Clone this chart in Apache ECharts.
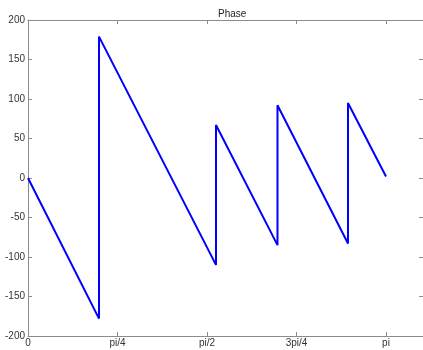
<!DOCTYPE html>
<html>
<head>
<meta charset="utf-8">
<script src="https://cdn.jsdelivr.net/npm/echarts@6/dist/echarts.min.js"></script>
<style>
  html, body { margin: 0; padding: 0; background: #fff; }
  #chart { width: 423px; height: 350px; }
</style>
</head>
<body>
<div id="chart"></div>
<script>
// phase curve, x in radians, y in degrees (jumps are repeated x)
const phaseX = [0, 0.6231, 0.6231, 1.6498, 1.6498, 2.1895, 2.1895, 2.8082, 2.8082, Math.PI];
const phaseY = [0, -178, 179, -110, 67, -85, 92, -83, 95, 2];
const xTickValues = [0, Math.PI / 4, Math.PI / 2, 3 * Math.PI / 4, Math.PI];
const xTickLabels = ['0', 'pi/4', 'pi/2', '3pi/4', 'pi'];

const axisColor = '#8c8c8c';
const font = 'Liberation Sans, Arial, sans-serif';

let chart = echarts.init(document.getElementById('chart'));

const boxX = (pos, show) => ({
  type: 'value',
  position: pos,
  min: 0,
  max: 3.4664,
  axisLine: { show: true, onZero: false, lineStyle: { color: axisColor, width: 1 } },
  axisTick: { show: true, inside: true, length: 4, customValues: xTickValues, lineStyle: { color: axisColor } },
  axisLabel: {
    show: show,
    customValues: xTickValues,
    margin: 2,
    color: '#333',
    fontSize: 10,
    fontFamily: font,
    formatter: v => {
      let i = xTickValues.findIndex(t => Math.abs(t - v) < 1e-6);
      return i >= 0 ? xTickLabels[i] : '';
    }
  },
  splitLine: { show: false }
});

const boxY = (pos, show) => ({
  type: 'value',
  position: pos,
  min: -200,
  max: 200,
  interval: 50,
  // right border sits just outside the picture, only its ticks show
  axisLine: { show: show, onZero: false, lineStyle: { color: axisColor, width: 1 } },
  axisTick: { show: true, inside: true, length: 4, lineStyle: { color: axisColor } },
  axisLabel: { show: show, margin: 3, color: '#333', fontSize: 10, fontFamily: font },
  splitLine: { show: false }
});

chart.setOption({
  animation: false,
  title: {
    text: 'Phase',
    left: 213,
    top: 4,
    textStyle: { fontSize: 10, fontWeight: 'normal', color: '#222', fontFamily: font }
  },
  grid: { left: 28, right: 0, top: 20, bottom: 14, containLabel: false },
  xAxis: [boxX('bottom', true), boxX('top', false)],
  yAxis: [boxY('left', true), boxY('right', false)],
  series: [{
    type: 'line',
    xAxisIndex: 0,
    yAxisIndex: 0,
    data: phaseX.map((x, i) => [x, phaseY[i]]),
    showSymbol: false,
    lineStyle: { color: '#0000ff', width: 2 },
    itemStyle: { color: '#0000ff' }
  }]
});
</script>
</body>
</html>
